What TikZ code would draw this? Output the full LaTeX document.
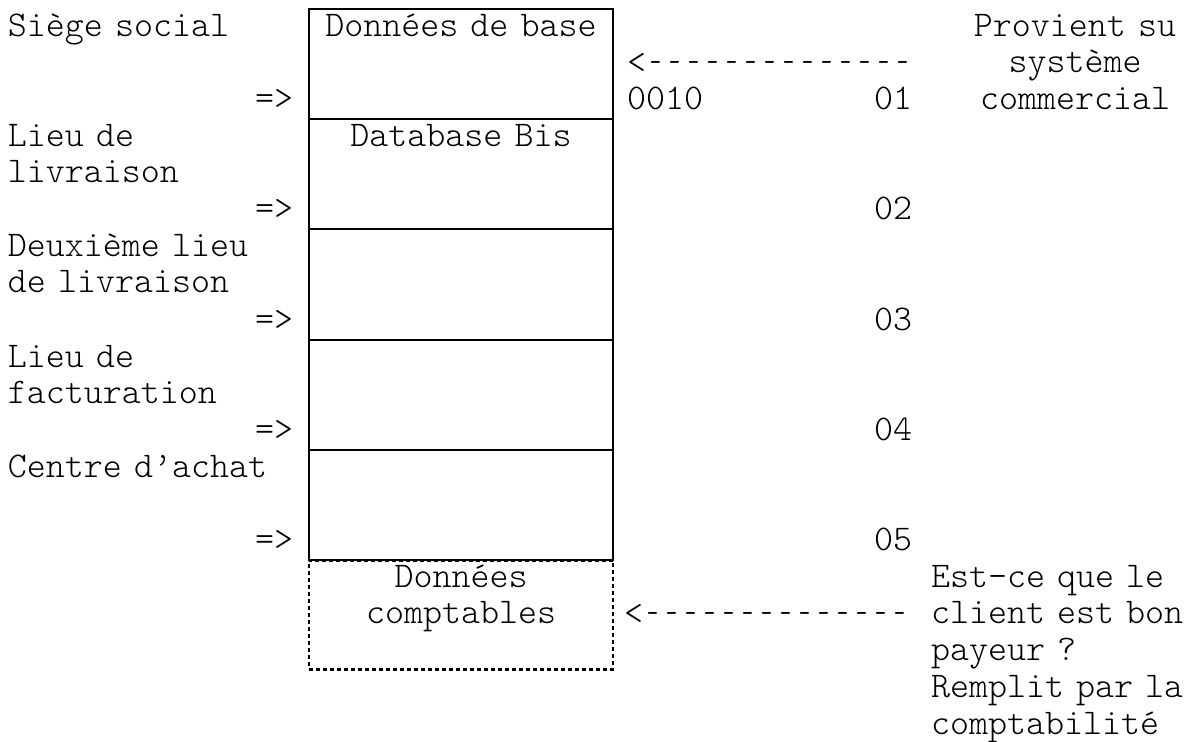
\documentclass[tikz,border=0pt]{standalone}
\usepackage{fontspec}
\usepackage{graphicx}
\setmonofont{Latin Modern Mono Light}
% short hyphen kept on the monospace grid
\newcommand\shorthy{\makebox[0.525em]{\scalebox{0.6}[1]{-}}}
\newcommand\leftarrowtext{<\shorthy\shorthy\shorthy\shorthy\shorthy\shorthy\shorthy\shorthy\shorthy\shorthy\shorthy\shorthy\shorthy\shorthy}
\begin{document}
\begin{tikzpicture}[x=1pt,y=-1pt,
  every node/.style={inner sep=0pt, outer sep=0pt, font=\ttfamily\fontsize{36.19}{36.8}\selectfont},
  txt/.style={anchor=base west},
  block/.style={anchor=base west, text width=300pt, align=left},
  ctr/.style={anchor=base, text width=304pt, align=center},
  cell/.style={draw, line width=2pt, minimum width=304pt, minimum height=110.3pt},
  opencell/.style={draw, line width=2.2pt, dash pattern=on 4pt off 3pt, minimum width=304pt, minimum height=109pt}]
\useasboundingbox (0,0) rectangle (1203,742);
\fill[white] (0,0) rectangle (1203,742);

% record column
\node[cell] (c1) at (461,64) {};
\node[cell] (c2) at (461,174.3) {};
\node[cell] (c3) at (461,284.6) {};
\node[cell] (c4) at (461,394.9) {};
\node[cell] (c5) at (461,505.2) {};
\node[opencell] (c6) at (461,614.9) {};

\node[ctr] (t1) at (461,36) {Données de base};
\node[ctr] (t2) at (461,146) {Database Bis};
\node[ctr] (t6) at (461,587) {Données\\comptables};

% left labels
\node[block] (l1) at (8,36) {Siège social};
\node[block] (l2) at (8,146) {Lieu de\\livraison};
\node[block] (l3) at (8,256) {Deuxième lieu\\de livraison};
\node[block] (l4) at (8,367) {Lieu de\\facturation};
\node[block] (l5) at (8,477) {Centre d’achat};

\node[txt] (a1) at (255,109) {=>};
\node[txt] (a2) at (255,219) {=>};
\node[txt] (a3) at (255,330) {=>};
\node[txt] (a4) at (255,440) {=>};
\node[txt] (a5) at (255,550) {=>};

% right side
\node[txt] (in1) at (627,73) {\leftarrowtext};
\node[txt] (code) at (627,109) {0010};
\node[txt] (n1) at (874,109) {01};
\node[txt] (n2) at (874,219) {02};
\node[txt] (n3) at (874,330) {03};
\node[txt] (n4) at (874,440) {04};
\node[txt] (n5) at (874,550) {05};
\node[txt] (in2) at (624,624) {\leftarrowtext};

\node[anchor=base, text width=240pt, align=center] (src) at (1075,36) {Provient su\\système\\commercial};
\node[block, text width=270pt] (note) at (931,587) {Est-ce que le\\client est bon\\payeur ?\\Remplit par la\\comptabilité};
\end{tikzpicture}
\end{document}
